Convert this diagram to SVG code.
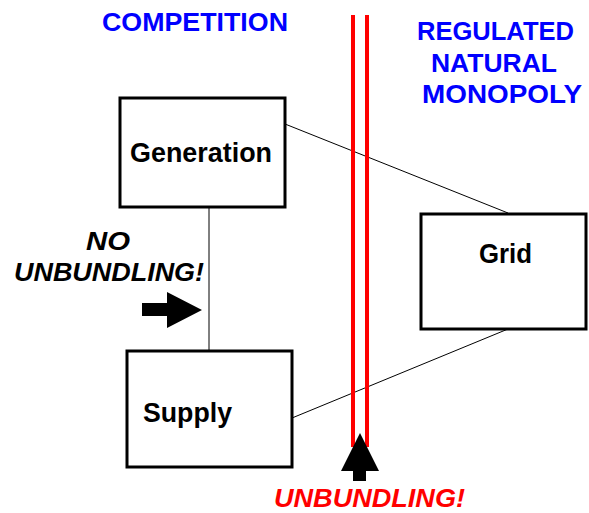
<svg xmlns="http://www.w3.org/2000/svg" width="589" height="513" viewBox="0 0 589 513">
<style>
.box{fill:#fff;stroke:#000;stroke-width:3}
.lbl{font-family:"Liberation Sans",Arial,sans-serif;font-weight:bold;font-size:27px;fill:#000}
.blue{font-family:"Liberation Sans",Arial,sans-serif;font-weight:bold;font-size:26px;fill:#0000ff}
.ital{font-family:"Liberation Sans",Arial,sans-serif;font-weight:bold;font-style:italic;font-size:26px;fill:#000}
.redt{fill:#ff0000}
.conn{stroke:#000;stroke-width:1;fill:none}
.red{stroke:#ff0000;stroke-width:4}
</style>
<rect width="589" height="513" fill="#fff"/>
<g id="connectors">
<line class="conn" x1="285" y1="124" x2="508" y2="213"/>
<line class="conn" x1="292" y1="418" x2="508" y2="329"/>
<line class="conn" x1="209" y1="207" x2="209" y2="350"/>
</g>
<g id="divider">
<line class="red" x1="353" y1="15" x2="353" y2="447"/>
<line class="red" x1="367" y1="15" x2="367" y2="447"/>
</g>
<g id="generation">
<rect class="box" x="120" y="98" width="165" height="109"/>
<text class="lbl" x="130" y="162" textLength="142" lengthAdjust="spacingAndGlyphs">Generation</text>
</g>
<g id="grid">
<rect class="box" x="421" y="214" width="165" height="115"/>
<text class="lbl" x="479" y="263" textLength="53" lengthAdjust="spacingAndGlyphs">Grid</text>
</g>
<g id="supply">
<rect class="box" x="127" y="351" width="165" height="116"/>
<text class="lbl" x="143" y="422" textLength="89" lengthAdjust="spacingAndGlyphs">Supply</text>
</g>
<g id="labels">
<text class="blue" x="102" y="31" font-size="26.5" textLength="186" lengthAdjust="spacingAndGlyphs">COMPETITION</text>
<text class="blue" x="417" y="40" textLength="157" lengthAdjust="spacingAndGlyphs">REGULATED</text>
<text class="blue" x="431" y="72" textLength="126" lengthAdjust="spacingAndGlyphs">NATURAL</text>
<text class="blue" x="422" y="103" textLength="160" lengthAdjust="spacingAndGlyphs">MONOPOLY</text>
<text class="ital" x="86" y="250" textLength="44" lengthAdjust="spacingAndGlyphs">NO</text>
<text class="ital" x="14" y="281" textLength="190" lengthAdjust="spacingAndGlyphs">UNBUNDLING!</text>
<text class="ital redt" x="274" y="507" textLength="191" lengthAdjust="spacingAndGlyphs">UNBUNDLING!</text>
</g>
<g id="arrows">
<polygon points="142,303 167,303 167,292 202,310 167,328 167,316 142,316" fill="#000"/>
<polygon points="360,433 379,471 366,471 366,481 353,481 353,471 341,471" fill="#000"/>
</g>
</svg>
